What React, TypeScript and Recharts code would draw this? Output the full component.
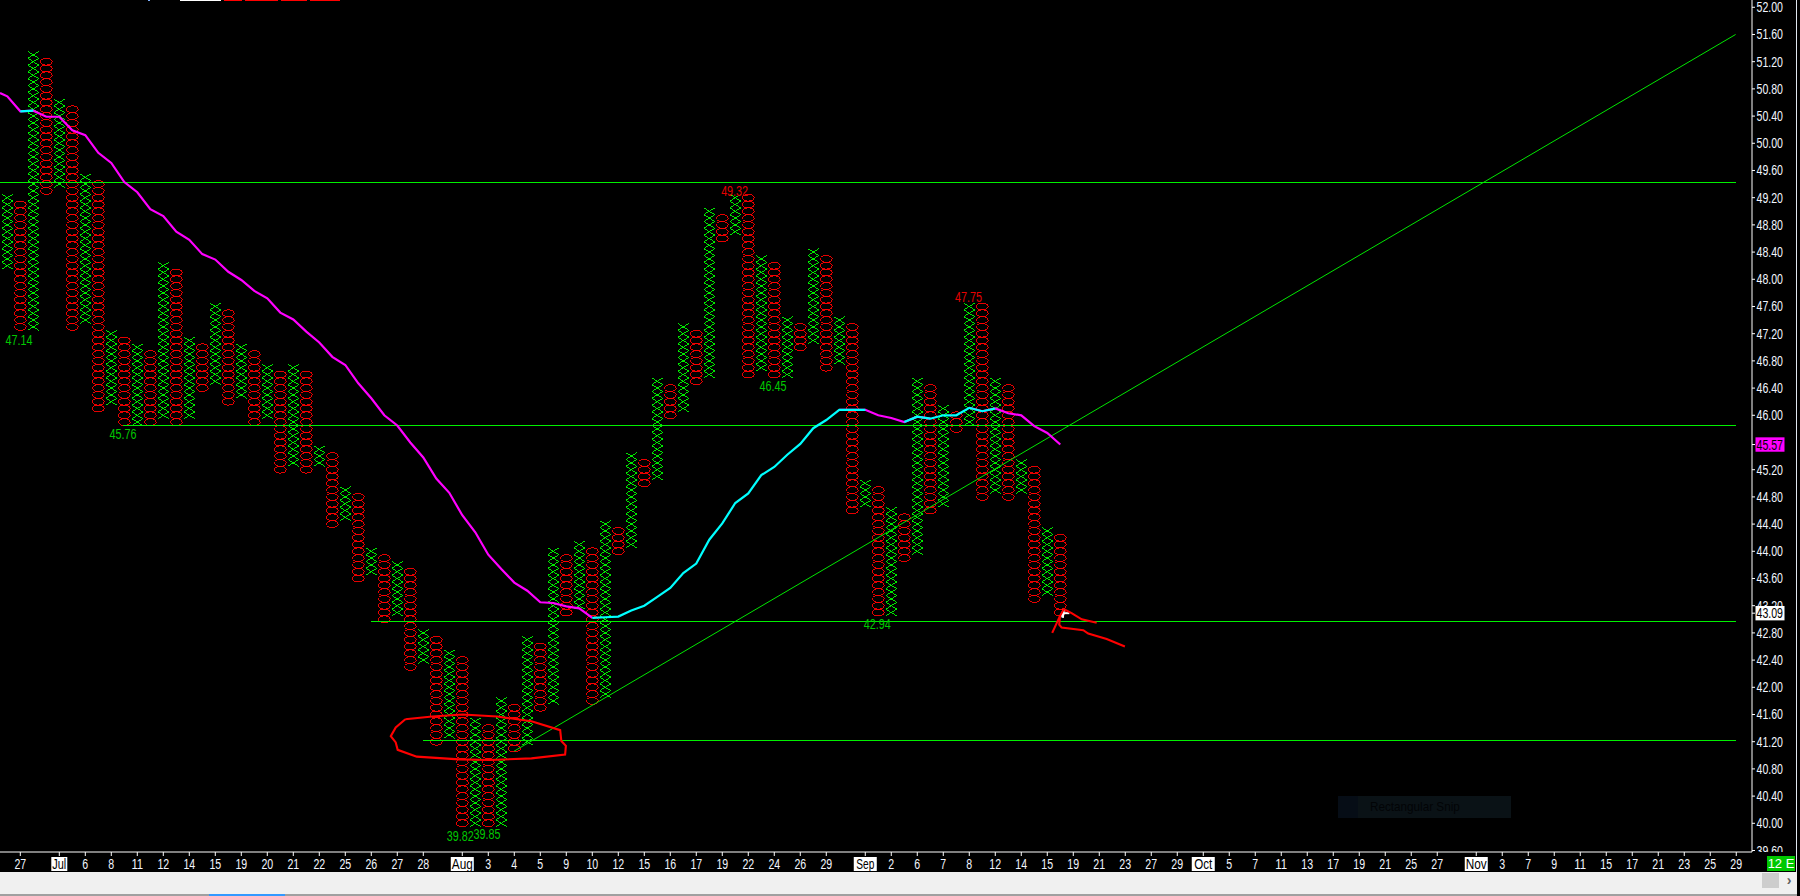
import React from "react";
import { ComposedChart, Bar, Line, XAxis, YAxis, ReferenceDot } from "recharts";

const FONT = '"Liberation Sans", Arial, sans-serif';
const GREEN = "#00ff00";
const RED = "#ff0000";
const BOX_PX = 6.8;

const columnKinds =
  "XOXOXOXOXOXOXOXOXOXOXOXOXOXOXOXOXOXOXOXOXOXOXOXOXOXOXOXOXOXOXOXOXOXOXOXOXOXOXOXOXO";
const columnHighs = [
  49.25, 49.15, 51.35, 51.25, 50.65, 50.55, 49.55, 49.45, 47.25, 47.15,
  47.05, 46.95, 48.25, 48.15, 47.15, 47.05, 47.65, 47.55, 47.05, 46.95,
  46.75, 46.65, 46.75, 46.65, 45.55, 45.45, 44.95, 44.85, 44.05, 43.95,
  43.85, 43.75, 42.85, 42.75, 42.55, 42.45, 41.55, 41.45, 41.85, 41.75,
  42.75, 42.65, 44.05, 43.95, 44.15, 44.05, 44.45, 44.35, 45.45, 45.35,
  46.55, 46.45, 47.35, 47.25, 49.05, 48.95, 49.25, 49.25, 48.35, 48.25,
  47.45, 47.35, 48.45, 48.35, 47.45, 47.35, 45.05, 44.95, 44.65, 44.55,
  46.55, 46.45, 46.15, 46.05, 47.65, 47.65, 46.55, 46.45, 45.35, 45.25,
  44.35, 44.25,
];
const columnLows = [
  48.15, 47.25, 47.25, 49.25, 49.35, 47.25, 47.35, 46.05, 46.15, 45.85,
  45.85, 45.85, 45.95, 45.85, 45.95, 46.35, 46.45, 46.15, 46.25, 45.85,
  45.95, 45.15, 45.25, 45.15, 45.25, 44.35, 44.45, 43.55, 43.65, 42.95,
  43.05, 42.25, 42.35, 41.15, 41.25, 39.95, 39.95, 39.95, 39.95, 41.05,
  41.15, 41.65, 41.75, 43.05, 43.15, 41.75, 41.85, 43.95, 44.05, 44.95,
  45.05, 45.95, 46.05, 46.45, 46.55, 48.55, 48.65, 46.55, 46.65, 46.55,
  46.55, 46.95, 47.05, 46.65, 46.75, 44.55, 44.65, 43.05, 43.05, 43.85,
  43.95, 44.55, 44.65, 45.75, 45.85, 44.75, 44.85, 44.75, 44.85, 43.25,
  43.35, 43.05,
];
const averageValues = [
  50.69, 50.47, 50.48, 50.39, 50.39, 50.19, 50.12, 49.86, 49.71, 49.43,
  49.28, 49.03, 48.93, 48.7, 48.58, 48.37, 48.29, 48.11, 47.99, 47.83,
  47.72, 47.51, 47.41, 47.23, 47.07, 46.86, 46.74, 46.47, 46.25, 46.0,
  45.85, 45.6, 45.38, 45.07, 44.86, 44.53, 44.28, 43.95, 43.74, 43.54,
  43.42, 43.25, 43.24, 43.19, 43.16, 43.02, 43.03, 43.04, 43.13, 43.2,
  43.33, 43.46, 43.68, 43.82, 44.17, 44.41, 44.71, 44.85, 45.12, 45.24,
  45.42, 45.58, 45.81, 45.93, 46.08, 46.08, 46.08, 46.0, 45.96, 45.9,
  45.98, 45.95, 46.0, 46.0, 46.11, 46.06, 46.1, 46.03, 46.0, 45.84,
  45.74, 45.57,
];
const risingAverageRanges = [
  [1, 2], [45, 64], [65, 66], [69, 70], [71, 74], [75, 76],
];

const tickCols = [
  1, 4, 6, 8, 10, 12, 14, 16, 18, 20, 22, 24, 26, 28, 30, 32, 35, 37, 39, 41, 43, 45, 47, 49,
  51, 53, 55, 57, 59, 61, 63, 66, 68, 70, 72, 74, 76, 78, 80, 82, 84, 86, 88, 90, 92, 94, 96,
  98, 100, 102, 104, 106, 108, 110, 113, 115, 117, 119, 121, 123, 125, 127, 129, 131, 133,
];
const tickLabels = [
  "27", "Jul", "6", "8", "11", "12", "14", "15", "19", "20", "21", "22", "25", "26", "27", "28",
  "Aug", "3", "4", "5", "9", "10", "12", "15", "16", "17", "19", "22", "24", "26", "29",
  "Sep", "2", "6", "7", "8", "12", "14", "15", "19", "21", "23", "27", "29",
  "Oct", "5", "7", "11", "13", "17", "19", "21", "25", "27",
  "Nov", "3", "7", "9", "11", "15", "17", "21", "23", "25", "29",
];
const priceTicks = [
  52, 51.6, 51.2, 50.8, 50.4, 50, 49.6, 49.2, 48.8, 48.4, 48, 47.6, 47.2, 46.8, 46.4, 46, 45.2,
  44.8, 44.4, 44, 43.6, 43.2, 42.8, 42.4, 42, 41.6, 41.2, 40.8, 40.4, 40, 39.6, 45.57, 43.09,
];

const levelUpper = [{ col: -0.56, price: 49.42 }, { col: 132.95, price: 49.42 }];
const levelMiddle = [{ col: 8.9, price: 45.85 }, { col: 132.95, price: 45.85 }];
const levelLower = [{ col: 28, price: 42.97 }, { col: 132.95, price: 42.97 }];
const levelBottom = [{ col: 32, price: 41.22 }, { col: 132.95, price: 41.22 }];
const trendLine = [{ col: 38.98, price: 41.06 }, { col: 132.95, price: 51.6 }];

const ellipseMark = [
  { col: 30.62, price: 41.53 }, { col: 32.68, price: 41.57 }, { col: 35.03, price: 41.6 },
  { col: 37.68, price: 41.57 }, { col: 40.32, price: 41.5 }, { col: 42.53, price: 41.37 },
  { col: 42.62, price: 41.21 }, { col: 42.97, price: 41.14 }, { col: 42.91, price: 41.01 },
  { col: 40.32, price: 40.955 }, { col: 37.09, price: 40.93 }, { col: 34.74, price: 40.94 },
  { col: 31.5, price: 40.98 }, { col: 30.03, price: 41.08 }, { col: 29.88, price: 41.19 },
  { col: 29.5, price: 41.28 }, { col: 29.88, price: 41.41 }, { col: 30.62, price: 41.53 },
];
const arrowUpper = [
  { col: 80.38, price: 42.8 }, { col: 80.98, price: 43.05 }, { col: 81.28, price: 43.15 },
  { col: 81.87, price: 43.09 }, { col: 82.65, price: 43.0 }, { col: 83.8, price: 42.95 },
];
const arrowLower = [
  { col: 80.98, price: 43.05 }, { col: 80.92, price: 42.92 }, { col: 81.1, price: 42.88 },
  { col: 82.77, price: 42.84 }, { col: 83.15, price: 42.79 }, { col: 84.57, price: 42.71 },
  { col: 85.97, price: 42.6 },
];
const cursorStrokeA = [{ col: 81.0, price: 43.03 }, { col: 81.27, price: 43.14 }, { col: 81.2, price: 43.02 }];
const cursorStrokeB = [{ col: 81.15, price: 43.09 }, { col: 81.7, price: 43.09 }];

const priceNotes = [
  { text: "47.14", col: 0.9, price: 47.1, tone: "#00c800" },
  { text: "45.76", col: 8.9, price: 45.73, tone: "#00c800" },
  { text: "39.82", col: 34.85, price: 39.81, tone: "#00c800" },
  { text: "39.85", col: 36.9, price: 39.84, tone: "#00c800" },
  { text: "49.32", col: 55.95, price: 49.3, tone: "#e60000" },
  { text: "47.75", col: 73.94, price: 47.74, tone: "#e60000" },
  { text: "46.45", col: 58.9, price: 46.43, tone: "#00c800" },
  { text: "42.94", col: 66.93, price: 42.93, tone: "#00c800" },
];

const columnRows = columnHighs.map((high, i) => ({
  col: i,
  kind: columnKinds[i],
  range: [columnLows[i], high],
}));
const isRising = (a: number, b: number) =>
  risingAverageRanges.some(([s, e]) => a >= s && b <= e);
const averageFalling = [
  { col: -0.56, price: 50.74 },
  ...averageValues.map((price, i) => ({
    col: i,
    price: !isRising(i - 1, i) || !isRising(i, i + 1) ? price : null,
  })),
];
const averageRising = averageValues.map((price, i) => ({
  col: i,
  price: isRising(i - 1, i) || isRising(i, i + 1) ? price : null,
}));

function Glyphs(props: any) {
  const { x, y, width, height, payload } = props;
  const top = Math.min(y, y + height);
  const h = Math.abs(height);
  const n = Math.max(1, Math.round(h / BOX_PX));
  const step = h / n;
  const cx = x + width / 2;
  const items = [];
  for (let k = 0; k < n; k++) {
    const cy = top + step * (k + 0.5);
    if (payload.kind === "X") {
      const d = `M${cx - 5.5} ${cy - step / 2}L${cx + 5.5} ${cy + step / 2}M${cx + 5.5} ${cy - step / 2}L${cx - 5.5} ${cy + step / 2}`;
      items.push(<path key={k} d={d} stroke={GREEN} strokeWidth={0.9} fill="none" shapeRendering="crispEdges" />);
    } else {
      items.push(
        <ellipse key={k} cx={cx} cy={cy} rx={5.9} ry={3.45} stroke={RED} strokeWidth={0.9} fill="none" shapeRendering="crispEdges" />,
      );
    }
  }
  return <g>{items}</g>;
}

const monthWidth = (label: string) => (label === "Jul" ? 14 : label === "Aug" || label === "Nov" ? 21 : 18);

function TimeTick(props: any) {
  const { x, payload } = props;
  const label = tickLabels[tickCols.indexOf(payload.value)];
  const isMonth = label && label.length === 3;
  const w = label === "Jul" ? 16 : 23;
  const textW = isMonth ? monthWidth(label) : label.length * 5.9;
  return (
    <g>
      <line x1={x} x2={x} y1={852} y2={856} stroke="#ffffff" />
      {isMonth && <rect x={x - w / 2} y={857} width={w} height={14} fill="#ffffff" />}
      <text
        x={x}
        y={869}
        textAnchor="middle"
        fontFamily={FONT}
        fontSize={14}
        textLength={textW}
        lengthAdjust="spacingAndGlyphs"
        fill={isMonth ? "#000000" : "#f2f6ff"}
      >
        {label}
      </text>
    </g>
  );
}

function PriceTick(props: any) {
  const { y, payload } = props;
  const v = payload.value;
  const isLast = v === 45.57 || v === 43.09;
  return (
    <g clipPath="url(#priceClip)">
      <line x1={1752} x2={1755} y1={y} y2={y} stroke="#ffffff" />
      {isLast && <rect x={1755.5} y={y - 7.2} width={29} height={14.4} fill={v === 45.57 ? "#ff00ff" : "#ffffff"} />}
      <text
        x={1756.5}
        y={y + 5}
        textAnchor="start"
        fontFamily={FONT}
        fontSize={14}
        textLength={26.5}
        lengthAdjust="spacingAndGlyphs"
        fill={isLast ? "#000000" : "#f2f6ff"}
      >
        {v.toFixed(2)}
      </text>
    </g>
  );
}

const mark = (key: string, data: any[], stroke: string, strokeWidth: number, crisp = false) => (
  <Line
    key={key}
    data={data}
    dataKey="price"
    stroke={stroke}
    strokeWidth={strokeWidth}
    shapeRendering={crisp ? "crispEdges" : undefined}
    dot={false}
    activeDot={false}
    isAnimationActive={false}
    legendType="none"
    connectNulls={false}
  />
);

const box = (style: React.CSSProperties, children?: React.ReactNode) => (
  <div style={{ position: "absolute", ...style }}>{children}</div>
);

export default function App() {
  return (
    <div style={{ position: "fixed", left: 0, top: 0, width: 1800, height: 896, background: "#000000", overflow: "hidden" }}>
      {box({ left: 0, top: 872, width: 1797, height: 22, background: "#f0f0f0" })}
      {box({ left: 0, top: 894, width: 1797, height: 2, background: "#a0a0a0" })}
      {box({ left: 209, top: 894, width: 76, height: 2, background: "#3399ff" })}
      {box({ left: 1796, top: 0, width: 1, height: 872, background: "#dfe6ee" })}
      {box({ left: 1762, top: 873, width: 17, height: 15, background: "#cdcdcd" })}
      {box(
        { left: 1784, top: 872, width: 10, height: 16, color: "#606060", font: `bold 14px ${FONT}`, lineHeight: "16px", textAlign: "center" },
        "›",
      )}
      {box(
        { left: 1767, top: 856, width: 28, height: 15, background: "#00c800", color: "#ffffff", font: `13px ${FONT}`, lineHeight: "15px", textAlign: "center" },
        "12 E",
      )}
      {box({ left: 148, top: 0, width: 2, height: 1, background: "#7fb2ff" })}
      {box({ left: 180, top: 0, width: 41, height: 1, background: "#ffffff" })}
      {box({ left: 224, top: 0, width: 18, height: 1, background: RED })}
      {box({ left: 245, top: 0, width: 33, height: 1, background: RED })}
      {box({ left: 281, top: 0, width: 26, height: 1, background: RED })}
      {box({ left: 310, top: 0, width: 30, height: 1, background: RED })}
      {box({ left: 1338, top: 796, width: 173, height: 22, background: "#0a1216" })}
      {box({ left: 1338, top: 796, width: 20, height: 22, background: "#060d16" })}
      {box(
        { left: 1370, top: 796, color: "#020406", font: `13px ${FONT}`, lineHeight: "22px", whiteSpace: "nowrap", transform: "scaleX(0.9)", transformOrigin: "left center" },
        "Rectangular Snip",
      )}
      <div style={{ position: "absolute", left: 0, top: 0 }}>
        <ComposedChart
          width={1800}
          height={896}
          data={columnRows}
          margin={{ top: 0, right: 0, bottom: 24, left: 0 }}
          style={{ background: "transparent" }}
        >
          <defs>
            <clipPath id="priceClip">
              <rect x={1752} y={0} width={48} height={852} />
            </clipPath>
          </defs>
          <XAxis
            dataKey="col"
            type="number"
            domain={[-0.5615, 134.2115]}
            allowDataOverflow
            ticks={tickCols}
            interval={0}
            height={20}
            axisLine={{ stroke: "#ffffff" }}
            tickLine={false}
            tick={<TimeTick />}
          />
          <YAxis
            orientation="right"
            type="number"
            width={48}
            domain={[39.578, 52.107]}
            allowDataOverflow
            ticks={priceTicks}
            interval={0}
            axisLine={{ stroke: "#ffffff" }}
            tickLine={false}
            tick={<PriceTick />}
          />
          <Bar dataKey="range" barSize={13} shape={<Glyphs />} isAnimationActive={false} legendType="none" />
          {mark("upper", levelUpper, "#00f000", 1, true)}
          {mark("middle", levelMiddle, "#00f000", 1, true)}
          {mark("lower", levelLower, "#00f000", 1, true)}
          {mark("bottom", levelBottom, "#00f000", 1, true)}
          {mark("trend", trendLine, "#00e600", 1)}
          {mark("falling", averageFalling, "#ff00ff", 2.2)}
          {mark("rising", averageRising, "#00ffff", 2.2)}
          {mark("ellipse", ellipseMark, RED, 2.1)}
          {mark("cursorA", cursorStrokeA, "#ffffff", 2)}
          {mark("cursorB", cursorStrokeB, "#ffffff", 2)}
          {mark("arrowUpper", arrowUpper, RED, 2.1)}
          {mark("arrowLower", arrowLower, RED, 2.1)}
          {priceNotes.map((n) => (
            <ReferenceDot
              key={n.text}
              x={n.col}
              y={n.price}
              r={0}
              shape={(p: any) => (
                <text
                  x={p.cx}
                  y={p.cy + 5}
                  textAnchor="middle"
                  fontFamily={FONT}
                  fontSize={14}
                  textLength={27}
                  lengthAdjust="spacingAndGlyphs"
                  fill={n.tone}
                >
                  {n.text}
                </text>
              )}
            />
          ))}
        </ComposedChart>
      </div>
    </div>
  );
}
